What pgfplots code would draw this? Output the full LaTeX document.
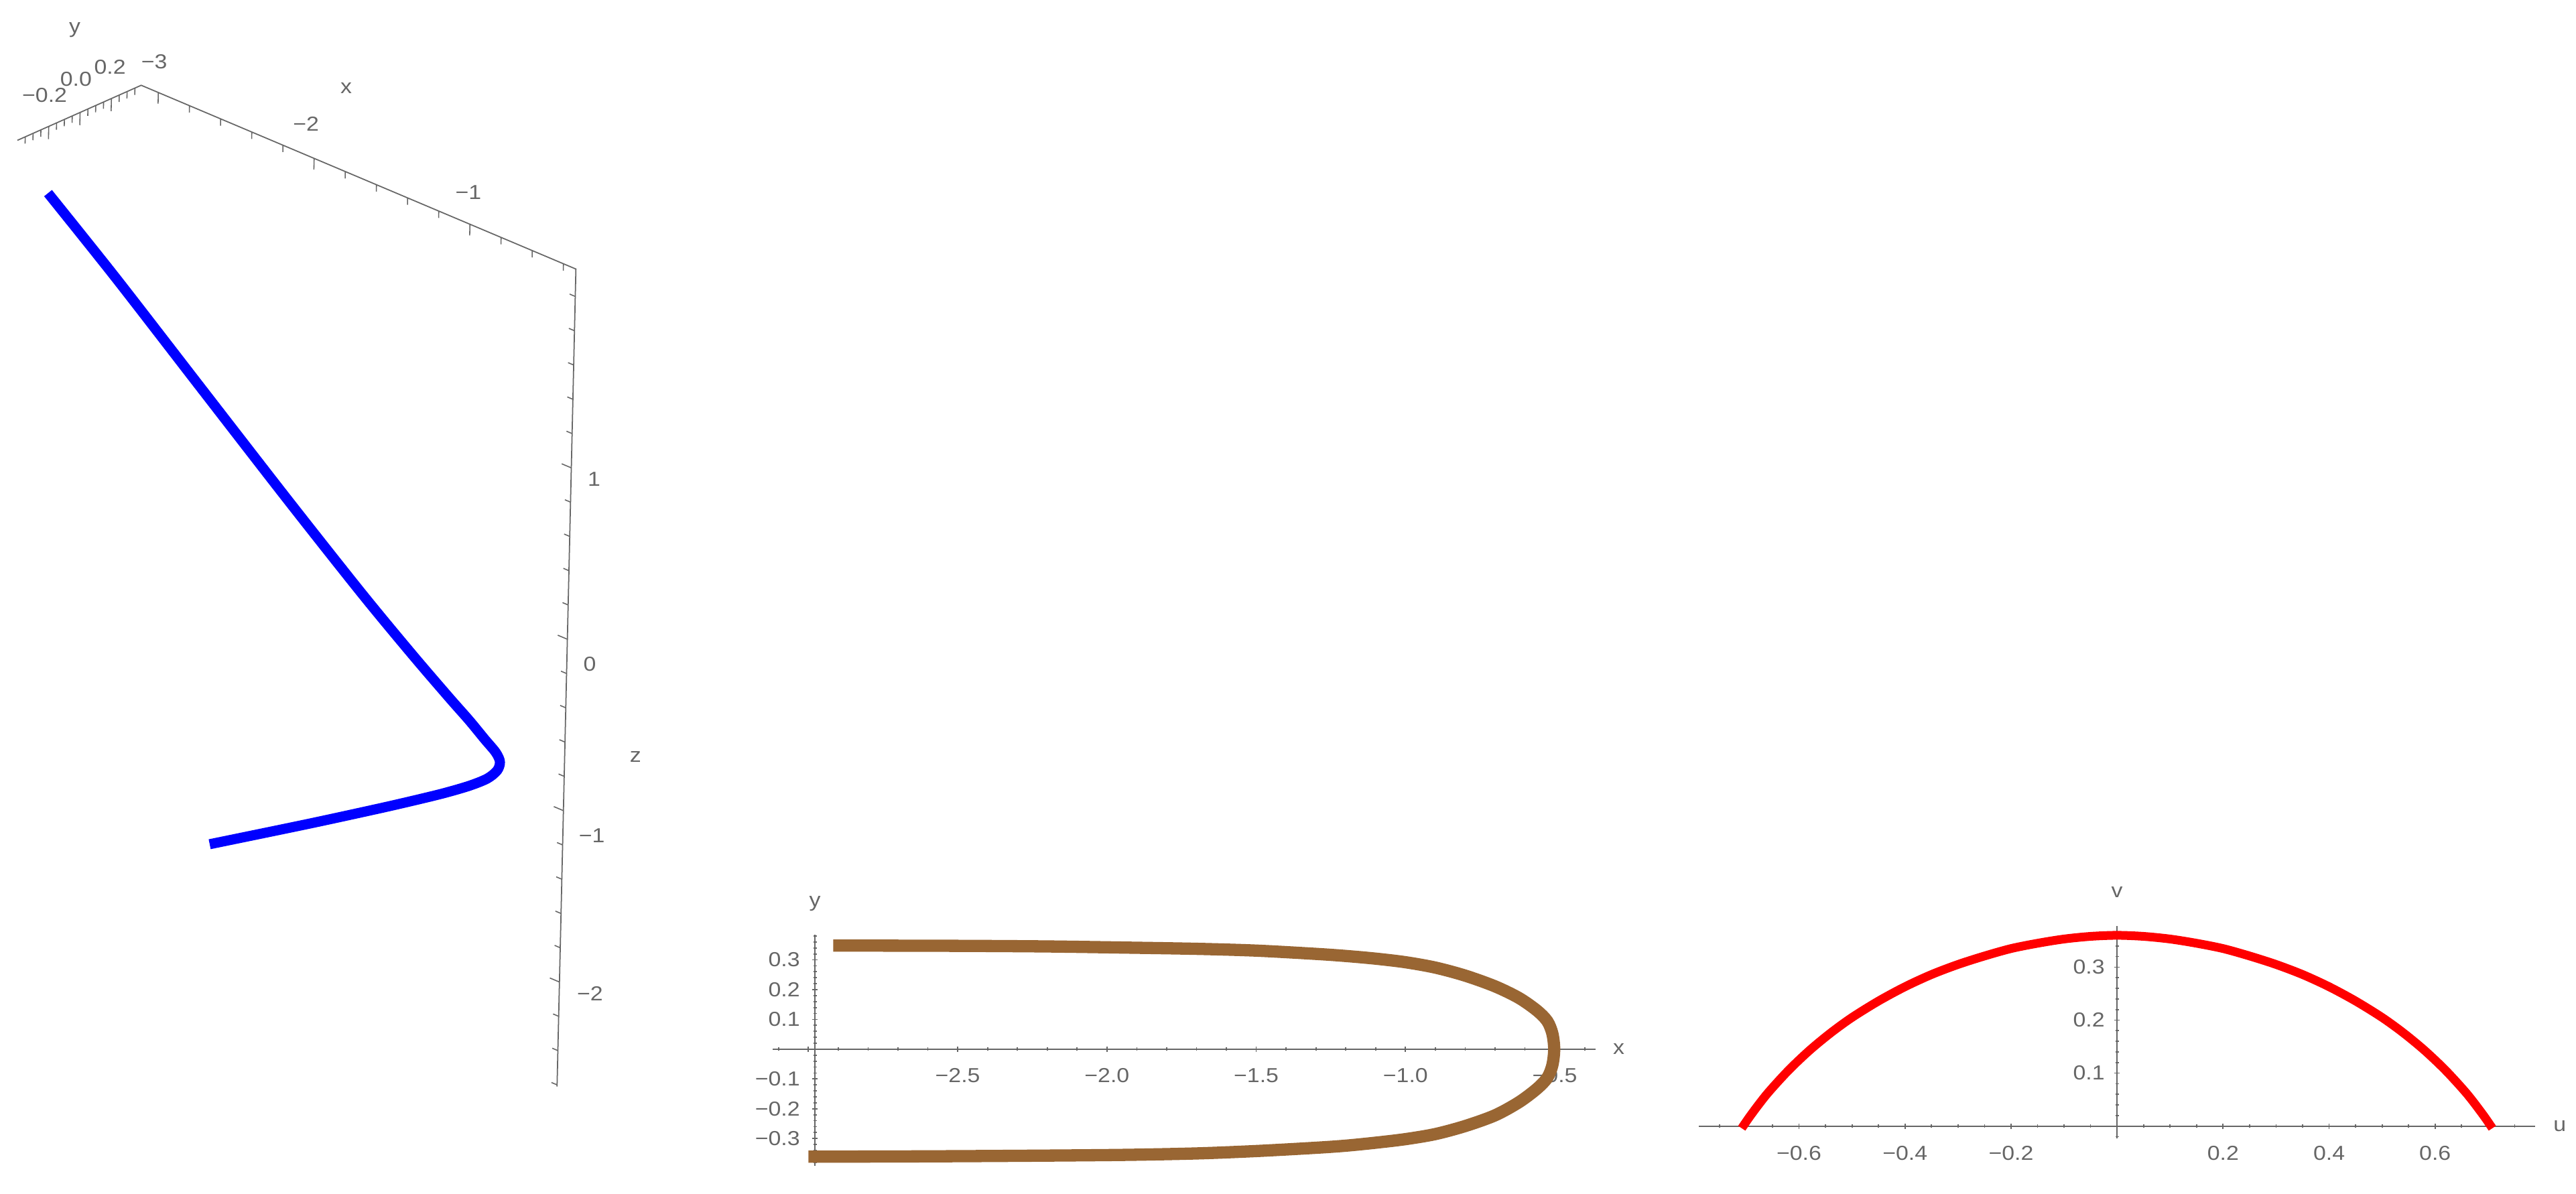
\documentclass[border=0pt]{standalone}
\usepackage{fontspec}
\setmainfont{Liberation Sans}[FakeStretch=1.12]
\usepackage{pgfplots}
\pgfplotsset{compat=1.18}
\usetikzlibrary{calc}

\definecolor{mgray}{rgb}{0.4,0.4,0.4}
\definecolor{mbrown}{rgb}{0.6,0.4,0.2}
\newcommand\tf{\fontsize{8.6}{10}\selectfont}

\pgfplotsset{
  flat2d/.style={
    scale only axis, enlargelimits=false, clip=false,
    axis line style={mgray, line width=0.6pt},
    tick style={mgray, line width=0.5pt},
    tick align=inside,
    ticklabel style={font=\tf, text=mgray},
    major tick length=0.08cm, minor tick length=0.05cm,
  },
  noarrows/.style={
    every inner x axis line/.append style={-},
    every inner y axis line/.append style={-},
    every outer x axis line/.append style={-},
    every outer y axis line/.append style={-},
  },
  tk/.style={mgray, line width=0.45pt, forget plot},
}
\tikzset{lab/.style={font=\tf, text=mgray, inner sep=0pt, anchor=center}}

\begin{document}
\begin{tikzpicture}

% 3D curve, box edges drawn by hand on the three visible edges
\begin{axis}[
  x={(2.325cm,-0.983cm)}, y={(2.338cm,1.040cm)}, z={(0.059cm,2.558cm)},
  xmin=-3.11, xmax=-0.32, ymin=-0.40, ymax=0.39, zmin=-2.61, zmax=2.16,
  hide axis, clip=false,
]
\coordinate (A3) at (axis cs:-3.11,0.39,2.16);
\addplot3[mgray, line width=0.5pt] coordinates {
  (-3.11,-0.40,2.16) (-3.11,0.39,2.16) (-0.32,0.39,2.16) (-0.32,0.39,-2.61)};
% x ticks
\pgfplotsinvokeforeach{-2.8,-2.6,-2.4,-2.2,-1.8,-1.6,-1.4,-1.2,-0.8,-0.6,-0.4}{
  \addplot3[tk] coordinates {(#1,0.39,2.16) (#1,0.39,2.12)};}
\pgfplotsinvokeforeach{-3,-2,-1}{
  \addplot3[tk] coordinates {(#1,0.39,2.16) (#1,0.39,2.095)};}
% y ticks
\pgfplotsinvokeforeach{-0.35,-0.3,-0.25,-0.15,-0.1,-0.05,0.05,0.1,0.15,0.25,0.3,0.35}{
  \addplot3[tk] coordinates {(-3.11,#1,2.16) (-3.11,#1,2.12)};}
\pgfplotsinvokeforeach{-0.2,0,0.2}{
  \addplot3[tk] coordinates {(-3.11,#1,2.16) (-3.11,#1,2.086)};}
% z ticks
\pgfplotsinvokeforeach{-2.6,-2.4,-2.2,-1.8,-1.6,-1.4,-1.2,-0.8,-0.6,-0.4,-0.2,0.2,0.4,0.6,0.8,1.2,1.4,1.6,1.8,2.0}{
  \addplot3[tk] coordinates {(-0.32,0.39,#1) (-0.356,0.39,#1)};}
\pgfplotsinvokeforeach{-2,-1,0,1}{
  \addplot3[tk] coordinates {(-0.32,0.39,#1) (-0.3815,0.39,#1)};}

\addplot3[blue, line width=0.15cm, line join=round, smooth] coordinates {
  (-2.946,-0.361,1.899) (-2.502,-0.361,1.574) (-1.947,-0.359,1.145)
  (-1.398,-0.337,0.691) (-0.957,-0.296,0.301) (-0.698,-0.225,0.016)
  (-0.556,-0.125,-0.221) (-0.479,-0.070,-0.347) (-0.408,-0.040,-0.441)
  (-0.354,-0.020,-0.507) (-0.346,0.000,-0.567) (-0.382,0.020,-0.639)
  (-0.469,0.045,-0.730) (-0.751,0.215,-0.950) (-0.984,0.280,-1.111)
  (-1.225,0.310,-1.263) (-1.447,0.320,-1.397) (-1.895,0.340,-1.663)
  (-2.522,0.348,-2.025)};

\node[lab, xshift=-0.06cm, yshift=0.464cm] at (axis cs:-3,0.39,2.16) {−3};
\node[lab, xshift=-0.121cm, yshift=0.514cm] at (axis cs:-2,0.39,2.16) {−2};
\node[lab, xshift=-0.023cm, yshift=0.48cm] at (axis cs:-1,0.39,2.16) {−1};
\node[lab, xshift=3.059cm, yshift=-0.044cm] at (axis cs:-3.11,0.39,2.16) {x};
\node[lab, xshift=-0.061cm, yshift=0.47cm] at (axis cs:-3.11,-0.2,2.16) {−0.2};
\node[lab, xshift=-0.062cm, yshift=0.496cm] at (axis cs:-3.11,0,2.16) {0.0};
\node[lab, xshift=-0.022cm, yshift=0.471cm] at (axis cs:-3.11,0.2,2.16) {0.2};
\node[lab, xshift=-0.078cm, yshift=1.229cm] at (axis cs:-3.11,0,2.16) {y};
\node[lab, xshift=0.34cm, yshift=-0.164cm] at (axis cs:-0.32,0.39,1) {1};
\node[lab, xshift=0.333cm, yshift=-0.369cm] at (axis cs:-0.32,0.39,0) {0};
\node[lab, xshift=0.425cm, yshift=-0.371cm] at (axis cs:-0.32,0.39,-1) {−1};
\node[lab, xshift=0.456cm, yshift=-0.173cm] at (axis cs:-0.32,0.39,-2) {−2};
\node[lab, xshift=1.016cm, yshift=-1.759cm] at (axis cs:-0.32,0.39,0) {z};
\end{axis}

% projection onto the x-y plane
\begin{axis}[flat2d,
  at={($(A3)+(9.426cm,-16.127cm)$)}, anchor=south west,
  width=12.274cm, height=3.446cm,
  xmin=-3.119, xmax=-0.364, ymin=-0.3917, ymax=0.3836,
  axis x line=middle, axis y line=left, axis y line shift=-0.628cm,
  noarrows,
  xtick={-3,-2.5,-2,-1.5,-1,-0.5}, xticklabels={,−2.5,−2.0,−1.5,−1.0,−0.5},
  minor xtick={-3.1,-3.0,...,-0.4},
  ytick={-0.3,-0.2,-0.1,0.1,0.2,0.3}, yticklabels={−0.3,−0.2,−0.1,0.1,0.2,0.3},
  minor ytick={-0.38,-0.36,...,0.38},
  xticklabel style={yshift=-0.12cm}, yticklabel style={xshift=-0.06cm},
]
\addplot[mbrown, line width=0.183cm, smooth] coordinates {
  (-2.917,0.348) (-2.5,0.347) (-2.2,0.345) (-1.93,0.341) (-1.7,0.337)
  (-1.5,0.331) (-1.3,0.320) (-1.2,0.313) (-1.1,0.304) (-1.0,0.292)
  (-0.9,0.274) (-0.8,0.247) (-0.7,0.211) (-0.62,0.172) (-0.56,0.130)
  (-0.525,0.094) (-0.508,0.052) (-0.502,0) (-0.508,-0.053) (-0.525,-0.096)
  (-0.56,-0.133) (-0.62,-0.178) (-0.7,-0.222) (-0.8,-0.258) (-0.9,-0.285)
  (-1.0,-0.302) (-1.1,-0.314) (-1.2,-0.324) (-1.3,-0.331) (-1.5,-0.342)
  (-1.7,-0.350) (-1.95,-0.355) (-2.3,-0.358) (-2.65,-0.360) (-3.0,-0.361)};
\node[lab, xshift=0.35cm] at (axis cs:-0.364,0) {x};
\node[lab, yshift=0.47cm] at (axis cs:-2.978,0.3836) {y};
\end{axis}

% u-v curve
\begin{axis}[flat2d,
  at={($(A3)+(23.243cm,-15.72cm)$)}, anchor=south west,
  width=12.478cm, height=3.176cm,
  xmin=-0.789, xmax=0.7885, ymin=-0.0235, ymax=0.378,
  axis lines=middle, noarrows,
  xtick={-0.6,-0.4,-0.2,0,0.2,0.4,0.6}, xticklabels={−0.6,−0.4,−0.2,,0.2,0.4,0.6},
  minor xtick={-0.75,-0.7,...,0.75},
  ytick={0,0.1,0.2,0.3}, yticklabels={,0.1,0.2,0.3},
  minor ytick={-0.02,0,...,0.36},
  xticklabel style={yshift=-0.13cm}, yticklabel style={xshift=-0.02cm},
]
\addplot[red, line width=0.13cm, smooth] coordinates {
  (-0.708,-0.004) (-0.69,0.022) (-0.66,0.061) (-0.62,0.105) (-0.58,0.143)
  (-0.54,0.176) (-0.50,0.205) (-0.45,0.236) (-0.40,0.263) (-0.35,0.286)
  (-0.30,0.305) (-0.25,0.321) (-0.20,0.335) (-0.15,0.345) (-0.10,0.353)
  (-0.05,0.358) (0,0.360) (0.05,0.358) (0.10,0.353) (0.15,0.345)
  (0.20,0.335) (0.25,0.321) (0.30,0.305) (0.35,0.286) (0.40,0.263)
  (0.45,0.236) (0.50,0.205) (0.54,0.176) (0.58,0.143) (0.62,0.105)
  (0.66,0.061) (0.69,0.022) (0.708,-0.004)};
\node[lab, xshift=0.37cm] at (axis cs:0.7885,0) {u};
\node[lab, yshift=0.5cm] at (axis cs:0,0.378) {v};
\end{axis}

\pgfresetboundingbox
\path[use as bounding box] ($(A3)+(-2.107cm,1.273cm)$) rectangle ($(A3)+(36.333cm,-16.547cm)$);
\end{tikzpicture}
\end{document}
